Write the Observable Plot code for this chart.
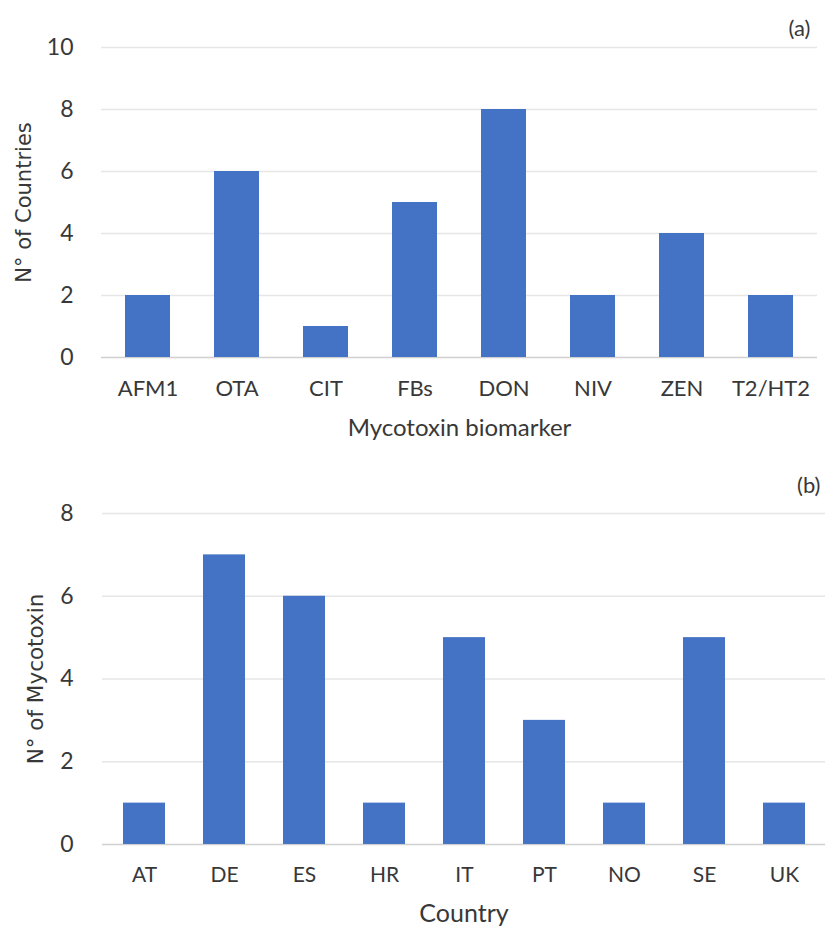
<!DOCTYPE html>
<html>
<head>
<meta charset="utf-8">
<script src="https://cdn.jsdelivr.net/npm/d3@7"></script>
<script src="https://cdn.jsdelivr.net/npm/@observablehq/plot@0.6"></script>
<style>
  html, body { margin: 0; padding: 0; background: #fff; }
  #chart svg { display: block; }
</style>
</head>
<body>
<div id="chart"></div>
<script>
// Panel (a): number of countries per mycotoxin biomarker
const biomarkers = ["AFM1", "OTA", "CIT", "FBs", "DON", "NIV", "ZEN", "T2/HT2"];
const countriesPerBiomarker = [2, 6, 1, 5, 8, 2, 4, 2];
const ticksA = [0, 2, 4, 6, 8, 10];

// Panel (b): number of mycotoxins per country
const countries = ["AT", "DE", "ES", "HR", "IT", "PT", "NO", "SE", "UK"];
const mycotoxinsPerCountry = [1, 7, 6, 1, 5, 3, 1, 5, 1];
const ticksB = [0, 2, 4, 6, 8];

const BLUE = "#4472C4";
const TEXT = "#383838";
const SANS = "Lato, 'Open Sans', sans-serif";
const TITLE_Y = "'DejaVu Sans', Verdana, sans-serif";

const dataA = biomarkers.map((k, i) => ({k, v: countriesPerBiomarker[i]}));
const dataB = countries.map((k, i) => ({k, v: mycotoxinsPerCountry[i]}));

const plotA = Plot.plot({
  width: 829, height: 460,
  marginTop: 47, marginBottom: 103, marginLeft: 101, marginRight: 12,
  style: {fontFamily: SANS, color: TEXT, background: "#fff"},
  x: {type: "band", domain: biomarkers, paddingInner: 0.49, paddingOuter: 0.245},
  y: {domain: [0, 10]},
  marks: [
    Plot.gridY(ticksA.filter(d => d > 0), {stroke: "#e6e6e6", strokeOpacity: 1, strokeWidth: 1.3}),
    Plot.ruleY([0], {stroke: "#d0d0d0", strokeWidth: 1.5}),
    Plot.barY(dataA, {x: "k", y: "v", fill: BLUE}),
    Plot.axisY({ticks: ticksA, tickSize: 0, tickPadding: 28, label: null, fontSize: 23, fill: TEXT}),
    Plot.axisX({tickSize: 0, tickPadding: 23, label: null, fontSize: 22, fill: TEXT}),
    Plot.text(["Mycotoxin biomarker"], {frameAnchor: "bottom", dy: 71, lineAnchor: "middle", fontSize: 24, fill: TEXT}),
    Plot.text(["N° of Countries"], {frameAnchor: "left", dx: -77, rotate: -90, lineAnchor: "middle", textAnchor: "middle", fontSize: 21, fontFamily: TITLE_Y, fill: TEXT}),
    Plot.text(["(a)"], {frameAnchor: "top-right", textAnchor: "end", lineAnchor: "middle", dx: -7, dy: -19, fontSize: 22, fill: TEXT})
  ]
});

const plotB = Plot.plot({
  width: 829, height: 466,
  marginTop: 53, marginBottom: 82, marginLeft: 102, marginRight: 4,
  style: {fontFamily: SANS, color: TEXT, background: "#fff"},
  x: {type: "band", domain: countries, paddingInner: 0.48, paddingOuter: 0.24},
  y: {domain: [0, 8]},
  marks: [
    Plot.gridY(ticksB.filter(d => d > 0), {stroke: "#e6e6e6", strokeOpacity: 1, strokeWidth: 1.3}),
    Plot.ruleY([0], {stroke: "#d0d0d0", strokeWidth: 1.5}),
    Plot.barY(dataB, {x: "k", y: "v", fill: BLUE}),
    Plot.axisY({ticks: ticksB, tickSize: 0, tickPadding: 29, label: null, fontSize: 23, fill: TEXT}),
    Plot.axisX({tickSize: 0, tickPadding: 23, label: null, fontSize: 21, fill: TEXT}),
    Plot.text(["Country"], {frameAnchor: "bottom", dy: 69, lineAnchor: "middle", fontSize: 25, fill: TEXT}),
    Plot.text(["N° of Mycotoxin"], {frameAnchor: "left", dx: -66, rotate: -90, lineAnchor: "middle", textAnchor: "middle", fontSize: 21.5, fontFamily: TITLE_Y, fill: TEXT}),
    Plot.text(["(b)"], {frameAnchor: "top-right", textAnchor: "end", lineAnchor: "middle", dx: -5, dy: -28, fontSize: 22, fill: TEXT})
  ]
});

const chart = document.getElementById("chart");
chart.appendChild(plotA);
chart.appendChild(plotB);
</script>
</body>
</html>
